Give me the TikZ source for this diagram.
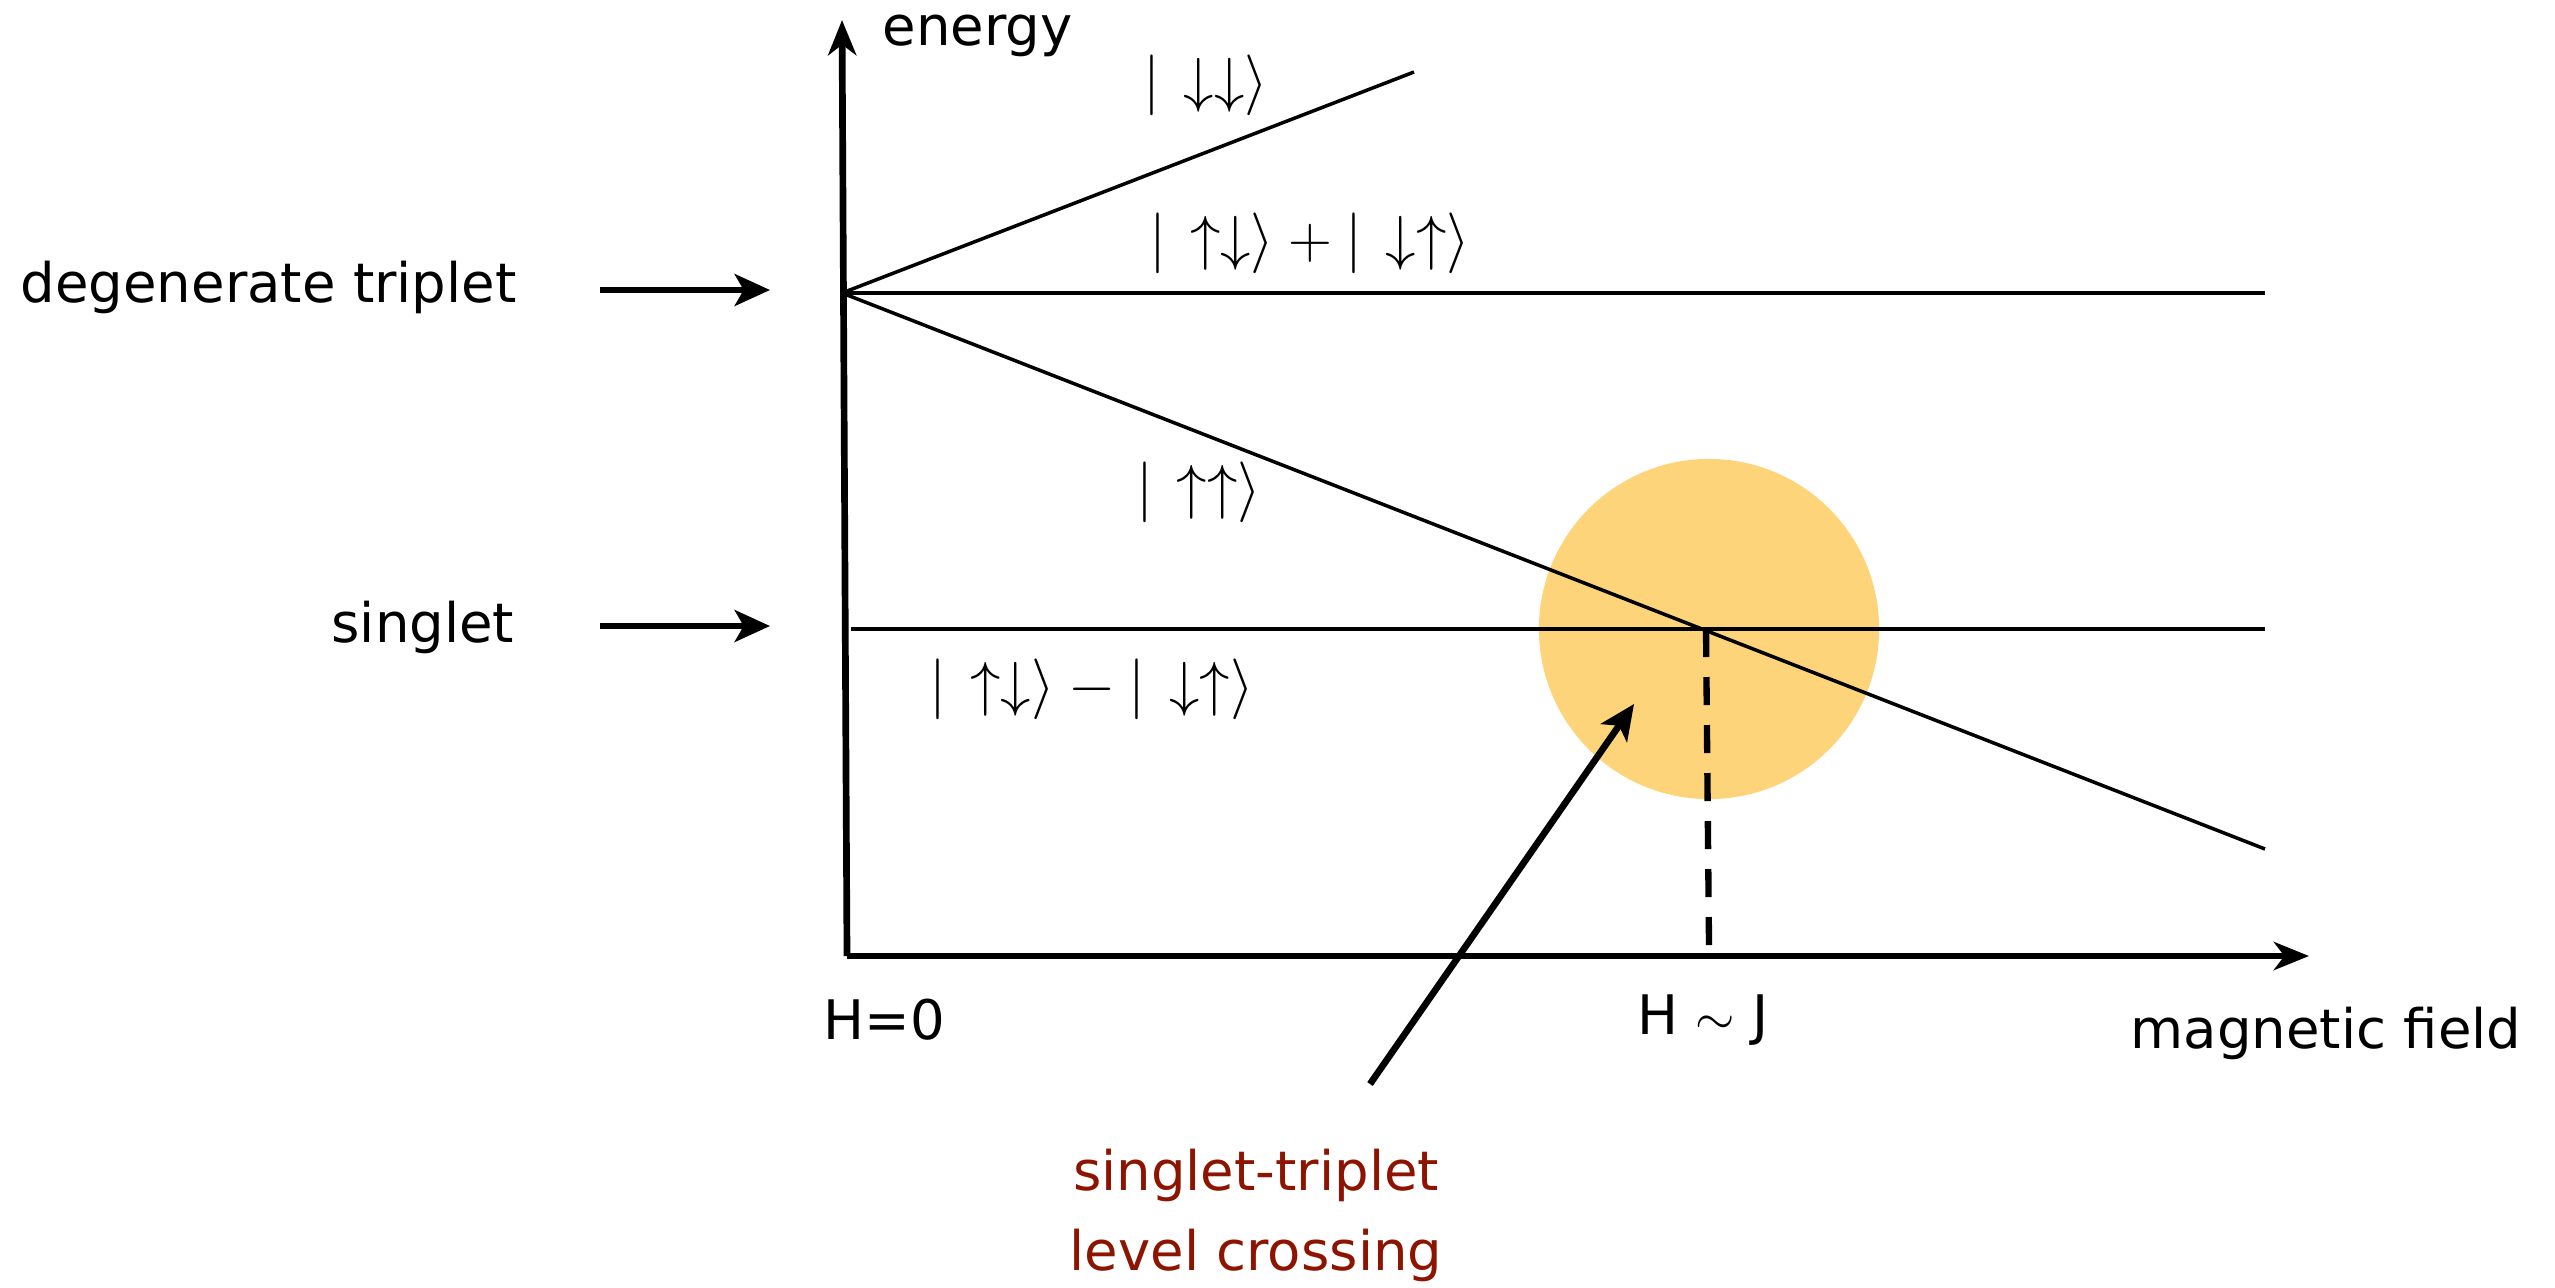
\documentclass[tikz,border=0pt]{standalone}
\usepackage{fontspec}
\setmainfont{DejaVu Sans}
\usetikzlibrary{arrows.meta}
\definecolor{blob}{RGB}{254,212,122}
\definecolor{crossred}{RGB}{140,20,0}
\begin{document}
\begin{tikzpicture}[x=0.01cm,y=-0.01cm,
  lbl/.style={font=\fontsize{15.5}{19}\selectfont, inner sep=0pt},
  redlbl/.style={lbl, text=crossred, align=center},
  ket/.style={font=\fontsize{17.5}{22}\selectfont, inner sep=0pt},
  level/.style={line width=1pt},
  axisline/.style={line width=1.9pt, -{Stealth[length=10pt,width=8pt,inset=3pt]}},
  pointer/.style={line width=1.9pt, -{Stealth[length=10pt,width=9pt,inset=2.5pt]}},
  dropline/.style={line width=1.8pt, dash pattern=on 8pt off 5.65pt}]
\useasboundingbox (0,0) rectangle (2555,1287);
% coordinates
\coordinate (O) at (847,956);
\coordinate (Etop) at (842,20);
\coordinate (Hend) at (2309,956);
\coordinate (T) at (842,293);
\coordinate (Tup) at (1414,72);
\coordinate (Tmid) at (2265,293);
\coordinate (Tlow) at (2265,849);
\coordinate (Sa) at (851,629);
\coordinate (Sb) at (2265,629);
\coordinate (X) at (1706,629);
\coordinate (Xfoot) at (1709,945);
\coordinate (Pa) at (1370,1084);
\coordinate (Pb) at (1634,704);
\coordinate (A1a) at (600,290);
\coordinate (A1b) at (770,290);
\coordinate (A2a) at (600,626);
\coordinate (A2b) at (770,626);
% highlight
\fill[blob] (1709,629) circle[radius=1.7cm];
% levels
\draw[level] (T) -- (Tup);
\draw[level] (T) -- (Tmid);
\draw[level] (T) -- (Tlow);
\draw[level] (Sa) -- (Sb);
\draw[dropline] (X) -- (Xfoot);
% axes
\draw[axisline] (O) -- (Etop);
\draw[axisline] (O) -- (Hend);
% side arrows
\draw[pointer] (A1a) -- (A1b);
\draw[pointer] (A2a) -- (A2b);
\draw[pointer] (Pa) -- (Pb);
% labels
\node[lbl, anchor=west] (energy) at (882,36) {energy};
\node[lbl, anchor=west] (dt) at (20,287) {degenerate triplet};
\node[lbl, anchor=east] (sg) at (515,627) {singlet};
\node[lbl] (h0) at (884,1020) {H=0};
\node[lbl] (hj) at (1703,1020) {H $\sim$ J};
\node[lbl, anchor=east] (mf) at (2522,1033) {magnetic field};
\node[redlbl] (st) at (1256,1175) {singlet-triplet};
\node[redlbl] (lc) at (1256,1255) {level crossing};
\node[ket] (kdd) at (1206,85) {$|\mkern2mu\downarrow\downarrow\rangle$};
\node[ket] (kplus) at (1310,243) {$|\mkern2mu\uparrow\downarrow\rangle+|\mkern2mu\downarrow\uparrow\rangle$};
\node[ket] (kuu) at (1199,492) {$|\mkern2mu\uparrow\uparrow\rangle$};
\node[ket] (kminus) at (1092,689) {$|\mkern2mu\uparrow\downarrow\rangle-|\mkern2mu\downarrow\uparrow\rangle$};
\end{tikzpicture}
\end{document}
